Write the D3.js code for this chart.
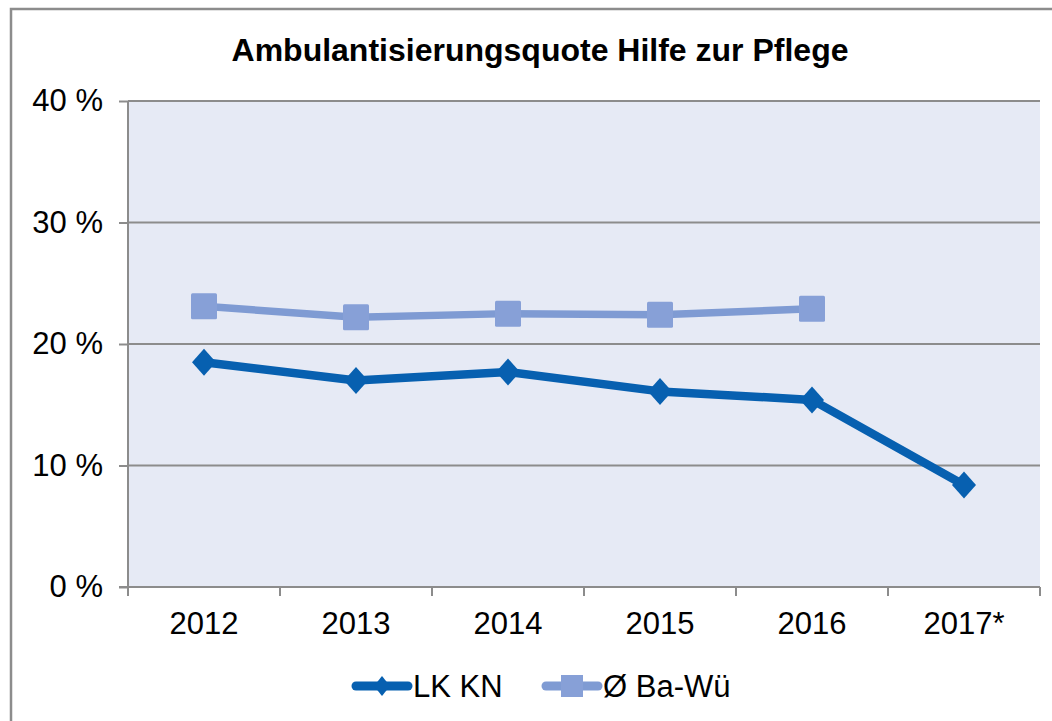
<!DOCTYPE html>
<html>
<head>
<meta charset="utf-8">
<script src="https://cdn.jsdelivr.net/npm/d3@7"></script>
<style>
  body { margin: 0; background: #fff; }
  svg text { font-family: "Liberation Sans", Arial, sans-serif; fill: #000; }
</style>
</head>
<body>
<div id="chart"></div>
<script>
const years = ["2012", "2013", "2014", "2015", "2016", "2017*"];
const lkKn = [18.5, 17.0, 17.7, 16.1, 15.4, 8.4];
const baWue = [23.1, 22.2, 22.5, 22.4, 22.9, null];
const yTicks = [0, 10, 20, 30, 40];
const seriesNames = ["LK KN", "Ø Ba-Wü"];

const width = 1052, height = 721;
const margin = { top: 101, right: 12, bottom: 134, left: 128 };

const svg = d3.select("#chart").append("svg")
  .attr("width", width)
  .attr("height", height);

// outer chart frame (runs off the right/bottom edge like the original)
svg.append("rect")
  .attr("x", 11).attr("y", 9)
  .attr("width", width + 20).attr("height", height + 20)
  .attr("fill", "#fff")
  .attr("stroke", "#8c8c8c")
  .attr("stroke-width", 2.5);

svg.append("text")
  .attr("x", 540).attr("y", 61)
  .attr("text-anchor", "middle")
  .style("font-size", "32px")
  .style("font-weight", "bold")
  .text("Ambulantisierungsquote Hilfe zur Pflege");

const x = d3.scaleBand()
  .domain(years)
  .range([margin.left, width - margin.right])
  .padding(0);

const y = d3.scaleLinear()
  .domain([0, 40])
  .range([height - margin.bottom, margin.top]);

const cx = d => x(d) + x.bandwidth() / 2;

// plot background
svg.append("rect")
  .attr("x", x.range()[0]).attr("y", y(40))
  .attr("width", x.range()[1] - x.range()[0])
  .attr("height", y(0) - y(40))
  .attr("fill", "#e6eaf5");

// gridlines
svg.append("g")
  .selectAll("line")
  .data(yTicks.filter(t => t > 0))
  .join("line")
    .attr("x1", x.range()[0]).attr("x2", x.range()[1])
    .attr("y1", d => y(d)).attr("y2", d => y(d))
    .attr("stroke", "#8c8c8c")
    .attr("stroke-width", 2);

// y axis
const yAxis = svg.append("g")
  .attr("transform", `translate(${margin.left},0)`)
  .call(d3.axisLeft(y).tickValues(yTicks).tickSize(9).tickPadding(16).tickFormat(d => d + " %"));
yAxis.selectAll("line, path").attr("stroke", "#8c8c8c").attr("stroke-width", 2);
yAxis.select(".domain").attr("d", `M0,${y(40)}V${y(0)}`);
yAxis.selectAll("text").style("font-size", "31px").attr("fill", "#000");

// x axis: labels centred in bands, ticks on band edges
const xAxis = svg.append("g")
  .attr("transform", `translate(0,${y(0)})`)
  .call(d3.axisBottom(x).tickSize(0).tickPadding(25));
xAxis.select(".domain").remove();
xAxis.selectAll("text").style("font-size", "31px").attr("fill", "#000");

svg.append("line")
  .attr("x1", x.range()[0] - 9).attr("x2", x.range()[1])
  .attr("y1", y(0)).attr("y2", y(0))
  .attr("stroke", "#8c8c8c").attr("stroke-width", 2);

svg.append("g")
  .selectAll("line")
  .data(years.map(d => x(d)).concat([x.range()[1]]))
  .join("line")
    .attr("x1", d => d).attr("x2", d => d)
    .attr("y1", y(0)).attr("y2", y(0) + 9)
    .attr("stroke", "#8c8c8c").attr("stroke-width", 2);

const colors = ["#0760b0", "#7f9bd3"];
const markerFill = ["#0760b0", "#87a0d7"];

const line = d3.line()
  .defined(d => d.v != null)
  .x(d => cx(d.year))
  .y(d => y(d.v));

const series = [lkKn, baWue].map((vals, i) =>
  years.map((yr, j) => ({ year: yr, v: vals[j] })));

// light series first so dark line sits on top
[1, 0].forEach(i => {
  svg.append("path")
    .datum(series[i])
    .attr("fill", "none")
    .attr("stroke", colors[i])
    .attr("stroke-width", i === 0 ? 8.5 : 7.5)
    .attr("stroke-linejoin", "round")
    .attr("d", line);
});

const diamond = (px, py, w, h) => `M${px},${py - h}L${px + w},${py}L${px},${py + h}L${px - w},${py}Z`;

svg.append("g")
  .selectAll("rect")
  .data(series[1].filter(d => d.v != null))
  .join("rect")
    .attr("x", d => cx(d.year) - 13)
    .attr("y", d => y(d.v) - 13)
    .attr("width", 26).attr("height", 26)
    .attr("rx", 1.5)
    .attr("fill", markerFill[1]);

svg.append("g")
  .selectAll("path")
  .data(series[0])
  .join("path")
    .attr("d", d => diamond(cx(d.year), y(d.v), 12, 13.5))
    .attr("fill", markerFill[0]);

// legend
const legendX = [352, 542];
const legendY = 686;
seriesNames.forEach((name, i) => {
  const g = svg.append("g").attr("transform", `translate(${legendX[i]},${legendY})`);
  g.append("line")
    .attr("x1", 4).attr("x2", 56)
    .attr("y1", 0).attr("y2", 0)
    .attr("stroke", colors[i])
    .attr("stroke-width", 9)
    .attr("stroke-linecap", "round");
  if (i === 0) {
    g.append("path").attr("d", diamond(30, 0, 8, 10)).attr("fill", markerFill[0]);
  } else {
    g.append("rect").attr("x", 19).attr("y", -11).attr("width", 22).attr("height", 22).attr("fill", markerFill[1]);
  }
  g.append("text")
    .attr("x", 61).attr("y", 11)
    .style("font-size", "31px")
    .text(name);
});
</script>
</body>
</html>
